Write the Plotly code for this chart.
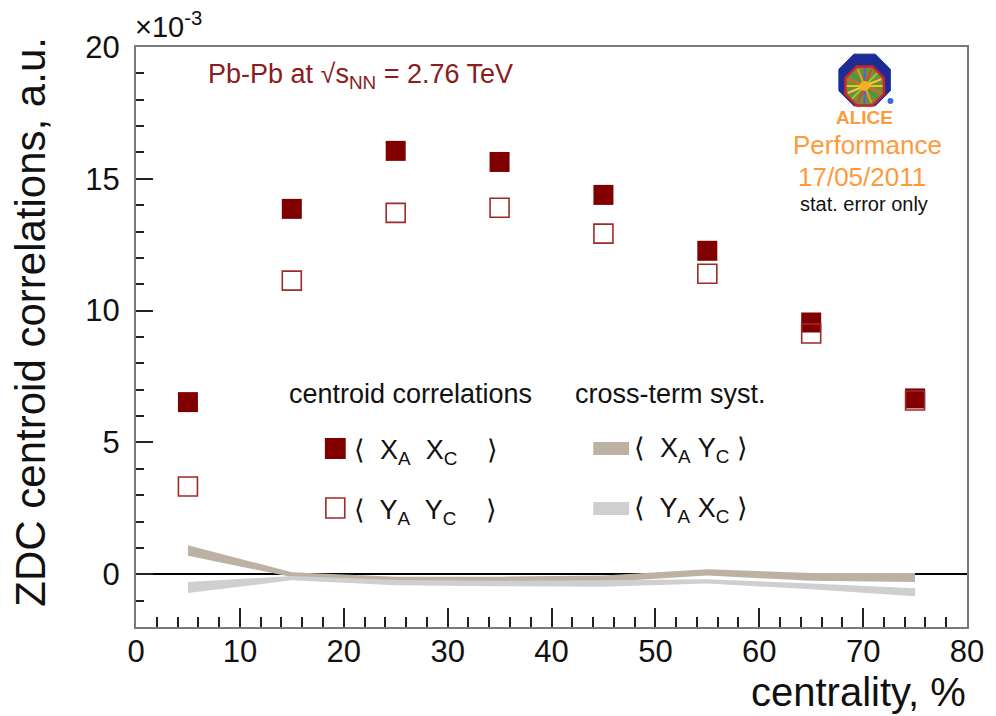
import math
import plotly.graph_objects as go

# ---- data (units of 1e-3) ----
centrality = [5, 15, 25, 35, 45, 55, 65, 75]
xa_xc = [6.53, 13.86, 16.06, 15.64, 14.39, 12.27, 9.55, 6.67]
ya_yc = [3.33, 11.14, 13.71, 13.90, 12.92, 11.40, 9.13, 6.59]
# cross-term systematics: band centre and half-width
xa_yc_mean = [0.90, -0.01, -0.21, -0.21, -0.17, 0.07, -0.10, -0.12]
xa_yc_half = [0.20, 0.09, 0.12, 0.12, 0.12, 0.12, 0.15, 0.17]
ya_xc_mean = [-0.50, -0.15, -0.32, -0.35, -0.35, -0.27, -0.46, -0.68]
ya_xc_half = [0.21, 0.08, 0.10, 0.10, 0.12, 0.08, 0.11, 0.15]

x_ticks = [0, 10, 20, 30, 40, 50, 60, 70, 80]
y_ticks = [0, 5, 10, 15, 20]

FONT = "Liberation Sans, Arial, sans-serif"
DARK_RED = "#800000"
OPEN_RED = "#9e2a2a"
TAN = "#bdb1a4"
GREY = "#cfcfcf"
ORANGE = "#ff9a3c"

W, H = 996, 716
L, R, T, B = 136, 972, 47, 627


def px(x):
    return (x - L) / (R - L)


def py(y):
    return (B - y) / (B - T)


def band(xs, mean, half):
    upper = [m + h for m, h in zip(mean, half)]
    lower = [m - h for m, h in zip(mean, half)]
    return xs + xs[::-1], upper + lower[::-1]


fig = go.Figure()

bx, by = band(centrality, xa_yc_mean, xa_yc_half)
fig.add_trace(go.Scatter(x=bx, y=by, mode="lines", fill="toself",
                         fillcolor=TAN, line=dict(width=0, color=TAN),
                         hoverinfo="skip", showlegend=False))
bx, by = band(centrality, ya_xc_mean, ya_xc_half)
fig.add_trace(go.Scatter(x=bx, y=by, mode="lines", fill="toself",
                         fillcolor=GREY, line=dict(width=0, color=GREY),
                         hoverinfo="skip", showlegend=False))

fig.add_trace(go.Scatter(x=centrality, y=xa_xc, mode="markers",
                         marker=dict(symbol="square", size=20, color=DARK_RED,
                                     line=dict(width=0)),
                         showlegend=False))
fig.add_trace(go.Scatter(x=centrality, y=ya_yc, mode="markers",
                         marker=dict(symbol="square-open", size=19,
                                     color=OPEN_RED, line=dict(width=1.6)),
                         showlegend=False))

axis_common = dict(
    showgrid=False, showline=True, linecolor="#7a7a7a", linewidth=2,
    mirror=True, ticks="inside", tickcolor="#222", tickwidth=1.5,
    tickfont=dict(family=FONT, size=31, color="#111"),
)

fig.update_xaxes(range=[0, 80], tickvals=x_ticks, ticklen=19,
                 zeroline=False, ticklabelstandoff=-4,
                 minor=dict(dtick=2, ticks="inside", ticklen=10,
                            tickcolor="#222", tickwidth=1.5, showgrid=False),
                 **axis_common)
fig.update_yaxes(range=[-2, 20], tickvals=y_ticks, ticklen=17,
                 zeroline=True, zerolinecolor="#000", zerolinewidth=1.5,
                 ticklabelstandoff=8,
                 minor=dict(dtick=1, ticks="inside", ticklen=8,
                            tickcolor="#222", tickwidth=1.5, showgrid=False),
                 **axis_common)

ann = []
shapes = []


def text(x, y, s, size, color="#111", xanchor="left", yanchor="middle",
         angle=0, bold=False):
    if bold:
        s = "<b>" + s + "</b>"
    ann.append(dict(x=px(x), y=py(y), xref="paper", yref="paper", text=s,
                    showarrow=False, xanchor=xanchor, yanchor=yanchor,
                    textangle=angle, borderpad=0,
                    font=dict(family=FONT, size=size, color=color)))


# axis titles and exponent
text(30, 36, "ZDC centroid correlations, a.u.", 42, xanchor="center",
     yanchor="top", angle=-90)
text(972, 692, "centrality, %", 40, xanchor="right")
text(134, 44, "×10<sup>-3</sup>", 29, yanchor="bottom")

# collision system label
text(207, 76, "Pb-Pb at √s<sub>NN</sub> = 2.76 TeV", 27, color="#8b1c1c")

# legend block
text(289, 394, "centroid correlations", 27)
text(577, 394, "cross-term syst.", 27)
text(354, 452, "⟨  X<sub>A</sub>  X<sub>C</sub>    ⟩", 27)
text(354, 512, "⟨  Y<sub>A</sub>  Y<sub>C</sub>    ⟩", 27)
text(636, 450, "⟨  X<sub>A</sub> Y<sub>C</sub> ⟩", 27)
text(636, 510, "⟨  Y<sub>A</sub> X<sub>C</sub> ⟩", 27)


def rect(x0, y0, x1, y1, fill, line_color=None, lw=0):
    shapes.append(dict(type="rect", xref="paper", yref="paper",
                       x0=px(x0), x1=px(x1), y0=py(y1), y1=py(y0),
                       fillcolor=fill,
                       line=dict(color=line_color or fill, width=lw)))


rect(326, 438, 347, 459, DARK_RED)
rect(327, 498, 346, 518, "rgba(0,0,0,0)", OPEN_RED, 1.6)
rect(596, 442, 632, 455, TAN)
rect(596, 502, 632, 515, GREY)

# ALICE performance stamp
text(869, 118, "ALICE", 19, color=ORANGE, xanchor="center", bold=True)
text(872, 145, "Performance", 26, color=ORANGE, xanchor="center")
text(866, 177, "17/05/2011", 26, color=ORANGE, xanchor="center")
text(868, 204, "stat. error only", 20, color="#111", xanchor="center")


def octagon(cx, cy, r):
    pts = []
    for k in range(8):
        a = math.radians(22.5 + 45 * k)
        pts.append((cx + r * math.cos(a), cy + r * math.sin(a)))
    return pts


def path(pts):
    d = "M " + " L ".join(f"{px(x):.5f},{py(y):.5f}" for x, y in pts)
    return d + " Z"


shapes.append(dict(type="path", xref="paper", yref="paper",
                   path=path(octagon(869, 80, 28)), fillcolor="#1c2c94",
                   line=dict(color="#1c2c94", width=1)))
shapes.append(dict(type="path", xref="paper", yref="paper",
                   path=path(octagon(869, 86, 21)), fillcolor="#6f8f3a",
                   line=dict(color="#d0202a", width=2.5)))
ray_colors = ["#f2c21c", "#e8612c", "#3a9a4a", "#f29a1c", "#4a6ad0",
              "#e0402c", "#9ac23c", "#f2d040"]
for k in range(16):
    a = math.radians(22.5 * k)
    x1, y1 = 869 + 18 * math.cos(a), 86 + 18 * math.sin(a)
    shapes.append(dict(type="line", xref="paper", yref="paper",
                       x0=px(869), y0=py(86), x1=px(x1), y1=py(y1),
                       line=dict(color=ray_colors[k % len(ray_colors)],
                                 width=2)))
shapes.append(dict(type="circle", xref="paper", yref="paper",
                   x0=px(864), x1=px(874), y0=py(91), y1=py(81),
                   fillcolor="#f5b020", line=dict(width=0)))
shapes.append(dict(type="circle", xref="paper", yref="paper",
                   x0=px(892), x1=px(898), y0=py(104), y1=py(98),
                   fillcolor="#3a6ad0", line=dict(width=0)))

fig.update_layout(
    width=W, height=H, autosize=False,
    margin=dict(l=L, r=W - R, t=T, b=H - B),
    paper_bgcolor="white", plot_bgcolor="white",
    showlegend=False,
    annotations=ann, shapes=shapes,
    font=dict(family=FONT),
)

fig.write_html("out.html")
